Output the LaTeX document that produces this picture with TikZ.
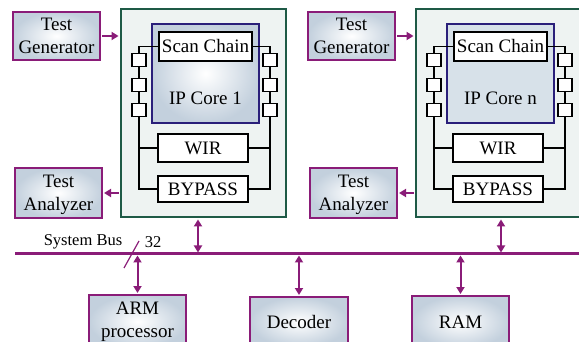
\documentclass[tikz,border=0pt]{standalone}
\usepackage{fontspec}
\setmainfont{Liberation Serif}
\usetikzlibrary{arrows.meta}
\definecolor{pur}{HTML}{8A1C78}
\definecolor{grn}{HTML}{1E5A46}
\definecolor{navyc}{HTML}{2A1F7A}
\definecolor{pale}{HTML}{EEF3F2}
\definecolor{bgray}{HTML}{C3D0DD}
\definecolor{coreflat}{HTML}{D7E1E9}
\newcommand\myfs{\fontsize{19}{23}\selectfont}
\newcommand\mysfs{\fontsize{16.5}{18}\selectfont}
\tikzset{
  extbox/.style={draw=pur, line width=2pt, inner color=white, outer color=bgray,
    align=center, font=\myfs, inner sep=0pt},
  outerbox/.style={draw=grn, line width=2.5pt, fill=pale, inner sep=0pt},
  corebox/.style={draw=navyc, line width=2.5pt, inner sep=0pt},
  corea/.style={corebox, inner color=white, outer color=bgray},
  coreb/.style={corebox, fill=coreflat},
  regbox/.style={draw=black, line width=1.5pt, fill=white, font=\myfs, inner sep=0pt},
  cellbox/.style={draw=black, line width=1.4pt, fill=white, minimum width=14pt,
    minimum height=13pt, inner sep=0pt},
  wire/.style={line width=1.2pt},
  tip/.tip={Triangle[length=7pt,width=8pt]},
  link/.style={pur, line width=2pt, -tip},
  biarr/.style={pur, line width=2pt, tip-tip},
}
\begin{document}
\begin{tikzpicture}[x=1pt,y=-1pt]
\useasboundingbox (0,0) rectangle (579,342);
\clip (0,0) rectangle (579,342);
\foreach \s/\n/\lab/\ax in {0/a/1/198, 295/b/n/501}{
  \node[outerbox, minimum width=165pt, minimum height=208pt] (OB\n) at (203.5+\s,113) {};
  \node[core\n, minimum width=107pt, minimum height=99pt] (IP\n) at (205.5+\s,73.5) {};
  \node[font=\myfs] (IPL\n) at (205.5+\s,98) {IP Core \lab};
  \node[regbox, minimum width=93pt, minimum height=29pt] (SC\n) at (205.5+\s,46.5) {Scan Chain};
  \node[regbox, minimum width=90pt, minimum height=28pt] (WI\n) at (203+\s,148) {WIR};
  \node[regbox, minimum width=90pt, minimum height=26pt] (BY\n) at (203+\s,189) {BYPASS};
  \coordinate (XL\n) at (139+\s,0);
  \coordinate (XR\n) at (270+\s,0);
  \draw[wire] (SC\n.west) -| (BY\n.west -| XL\n) -- (BY\n.west);
  \draw[wire] (WI\n.west) -- (WI\n.west -| XL\n);
  \draw[wire] (SC\n.east) -| (BY\n.east -| XR\n) -- (BY\n.east);
  \draw[wire] (WI\n.east) -- (WI\n.east -| XR\n);
  \foreach \k/\yy in {1/60, 2/85, 3/110}{
    \node[cellbox] (CL\k\n) at (139+\s,\yy) {};
    \node[cellbox] (CR\k\n) at (270+\s,\yy) {};
  }
  \node[extbox, minimum width=87pt, minimum height=48pt] (TG\n) at (56.5+\s,36) {Test\\Generator};
  \node[extbox, minimum width=87pt, minimum height=50pt] (TA\n) at (58.5+\s,193) {};
  \node[font=\myfs, align=center] (TAL\n) at (58.5+\s,195) {Test\\Analyzer};
  \draw[link, shorten <=1pt, shorten >=1.2pt] (TG\n.east) -- (TG\n.east -| OB\n.west);
  \draw[link, shorten <=1.2pt, shorten >=1pt] (TA\n.east -| OB\n.west) -- (TA\n.east);
  \coordinate (AX\n) at (\ax,0);
}
\coordinate (busL) at (15,254);
\coordinate (busR) at (590,254);
\draw[pur, line width=3pt] (busL) -- (busR);
\draw[biarr, shorten <=1.2pt, shorten >=1.5pt] (OBa.south -| AXa) -- (AXa |- busL);
\draw[biarr, shorten <=1.2pt, shorten >=1.5pt] (OBb.south -| AXb) -- (AXb |- busL);
\node[font=\mysfs] (SB) at (83,242) {System Bus};
\node[font=\mysfs] (N32) at (153,242) {32};
\coordinate (sl1) at (124,268);
\coordinate (sl2) at (139,241);
\draw[pur, line width=1.2pt] (sl1) -- (sl2);
\node[extbox, minimum width=97pt, minimum height=53pt] (ARM) at (137.5,321.5) {ARM\\processor};
\node[extbox, minimum width=98pt, minimum height=50pt] (DEC) at (299,322) {Decoder};
\node[extbox, minimum width=97pt, minimum height=52pt] (RAM) at (460.5,322) {RAM};
\foreach \b in {ARM, DEC, RAM}{
  \draw[biarr, shorten <=1.5pt, shorten >=1pt] (\b.north |- busL) -- (\b.north);
}
\end{tikzpicture}
\end{document}
